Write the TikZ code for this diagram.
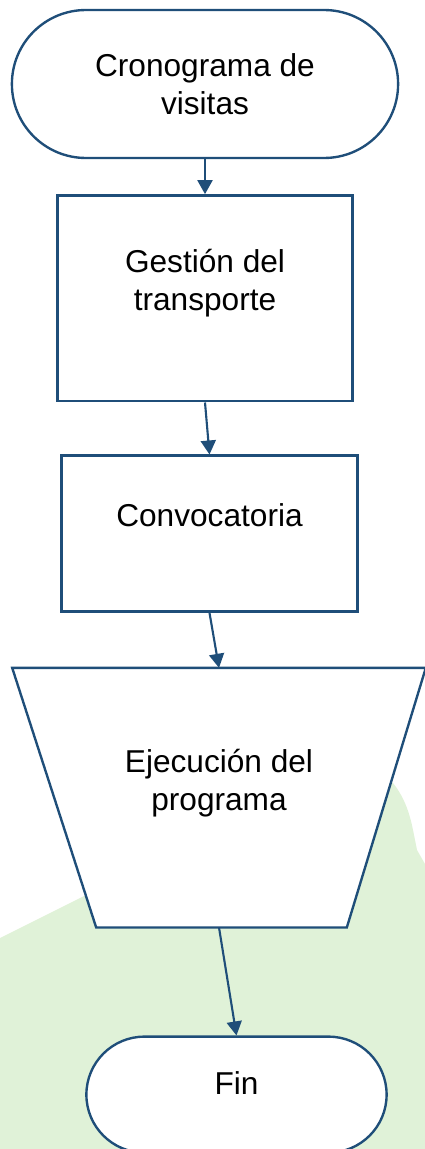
\documentclass[tikz,border=0pt]{standalone}
\usepackage{fontspec}
\setmainfont{Liberation Sans}
\usetikzlibrary{positioning, shapes.misc, arrows.meta, backgrounds}
\definecolor{lineblue}{RGB}{31,78,121}
\definecolor{bggreen}{RGB}{224,242,216}

\begin{document}
\begin{tikzpicture}[x=0.02cm, y=-0.02cm, font=\fontsize{18}{21.6}\selectfont,
    shapeline/.style={draw=lineblue, line width=1.35pt, fill=white, align=center},
    terminal/.style={shapeline, rounded rectangle},
    procbox/.style={shapeline, rectangle, text depth=0.75cm},
    flow/.style={draw=lineblue, line width=1.2pt, -{Triangle[length=0.28cm, width=0.3cm]}}]
          \useasboundingbox (0,0) rectangle (425,1149);
          % Start
          \node[terminal, minimum width=7.96cm, minimum height=2.96cm] (start) at (205,84)
                {Cronograma de\\visitas};
          % Steps
          \node[procbox, minimum width=5.9cm, minimum height=4.12cm,
                below=0.7cm of start] (gest) {Gestión del\\transporte};
          \node[procbox, minimum width=5.92cm, minimum height=3.12cm,
                below=1.04cm of gest, xshift=0.09cm] (conv) {Convocatoria};
          \node[align=center, minimum width=8.26cm, minimum height=5.18cm, text depth=0.7cm,
                below=1.1cm of conv, xshift=0.19cm] (exec) {Ejecución del\\programa};
          % End
          \node[terminal, minimum width=6.24cm, minimum height=2.32cm, text depth=0.45cm,
                below=2.16cm of exec, xshift=0.35cm] (fin) {Fin};
          \begin{scope}[on background layer]
            % green backdrop
            \fill[bggreen] (0,938) -- (90,893) -- (385,778) -- (393,783)
                  .. controls (405,798) and (410,815) .. (413,830)
                  -- (417,850) -- (425,864) -- (425,1149) -- (0,1149) -- cycle;
            % trapezoid of the execution step
            \filldraw[draw=lineblue, line width=1.35pt, fill=white]
                  (exec.north west) -- (exec.north east)
                  -- ([xshift=-1.58cm]exec.south east)
                  -- ([xshift=1.68cm]exec.south west) -- cycle;
          \end{scope}
          \draw[flow] (start.south) -- (gest.north);
          \draw[flow] (gest.south) -- (conv.north);
          \draw[flow] (conv.south) -- (exec.north);
          \draw[flow] (exec.south) -- (fin.north);
        \end{tikzpicture}
\end{document}
